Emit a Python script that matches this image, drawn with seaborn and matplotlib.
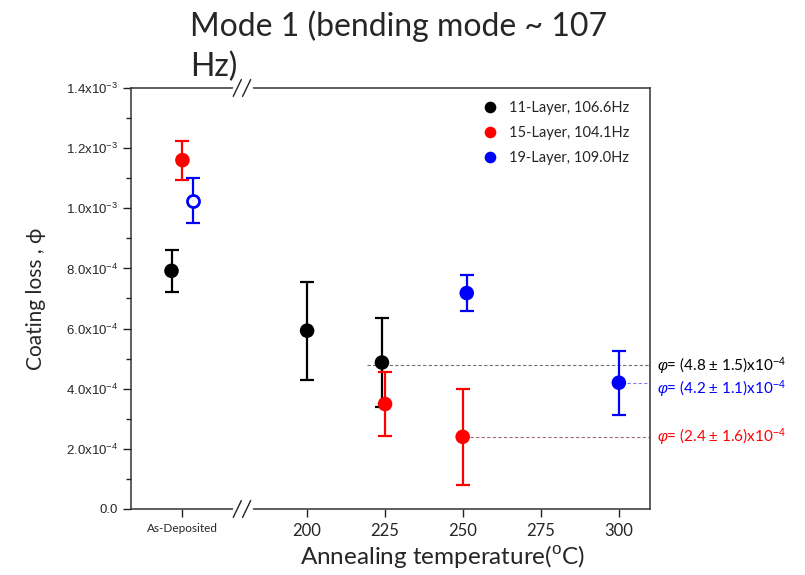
import numpy as np
import pandas as pd
import matplotlib
matplotlib.use('Agg')
import matplotlib.pyplot as plt
import seaborn as sns

# values (coating loss in units of 1e-4)
layers = ['11-Layer, 106.6Hz', '15-Layer, 104.1Hz', '19-Layer, 109.0Hz']
colors = ['black', 'red', 'blue']
temp_11 = [156.5, 200, 224]
loss_11 = [7.92, 5.93, 4.87]
err_11 = [0.70, 1.63, 1.49]
temp_15 = [160, 225, 249.9]
loss_15 = [11.6, 3.49, 2.40]
err_15 = [0.65, 1.06, 1.60]
temp_19 = [163.4, 251.2, 300]
loss_19 = [10.25, 7.18, 4.20]
err_19 = [0.75, 0.60, 1.07]

xtick_pos = [160, 200, 225, 250, 275, 300]
xtick_labels = ['As-Deposited', '200', '225', '250', '275', '300']
ytick_pos = [0, 2, 4, 6, 8, 10, 12, 14]
ytick_labels = ['0.0', '2.0x10$^{-4}$', '4.0x10$^{-4}$', '6.0x10$^{-4}$', '8.0x10$^{-4}$',
                '1.0x10$^{-3}$', '1.2x10$^{-3}$', '1.4x10$^{-3}$']

# fitted values shown at the right
fits = [('4.8', '1.5', 4.80), ('4.2', '1.1', 4.20), ('2.4', '1.6', 2.40)]
fit_start = [219.2, 302.6, 252.2]

sns.set_theme(style='ticks')
plt.rcParams['font.family'] = ['Lato', 'DejaVu Sans']
plt.rcParams['mathtext.fontset'] = 'custom'
plt.rcParams['mathtext.rm'] = 'Liberation Sans'
plt.rcParams['mathtext.it'] = 'Liberation Sans:italic'

df = pd.DataFrame({
    'temp': temp_11 + temp_15 + temp_19,
    'loss': np.array(loss_11 + loss_15 + loss_19) * 1e-4,
    'err': np.array(err_11 + err_15 + err_19) * 1e-4,
    'layer': [layers[0]] * 3 + [layers[1]] * 3 + [layers[2]] * 3,
})

fig = plt.figure(figsize=(8.05, 5.75), dpi=100)
ax = fig.add_axes([0.1627, 0.1148, 0.6448, 0.7322])

for lay, col in zip(layers, colors):
    d = df[df['layer'] == lay]
    ax.errorbar(d['temp'], d['loss'], yerr=d['err'], fmt='none', ecolor=col,
                elinewidth=1.6, capsize=5, capthick=1.6, zorder=2)

filled = df[~((df['layer'] == layers[2]) & (df['temp'] < 178))]
sns.scatterplot(data=filled, x='temp', y='loss', hue='layer', palette=colors,
                hue_order=layers, s=110, edgecolor='none', ax=ax, zorder=3)
# open marker for 19-layer as-deposited
opn = df[(df['layer'] == layers[2]) & (df['temp'] < 178)]
ax.scatter(opn['temp'], opn['loss'], s=75, facecolor='white', edgecolor='blue',
           linewidth=2, zorder=3)

# fit reference lines
line_cols = ['#707070', '#8080ff', '#a07070']
for (v, e, yv), xs, lc in zip(fits, fit_start, line_cols):
    ax.hlines(yv * 1e-4, xs, 310, colors=lc, linestyles=(0, (3, 2)), linewidth=0.8, zorder=1)
text_y = [4.73, 3.97, 2.39]
for (v, e, yv), ty, tc in zip(fits, text_y, ['black', 'blue', 'red']):
    ax.text(1.013, ty * 1e-4, r'$\varphi$= (' + v + ' $\\pm$ ' + e + ')x10$^{-4}$',
            transform=ax.get_yaxis_transform(), color=tc, fontsize=11,
            va='center', ha='left')

ax.set_xlim(143.5, 310)
ax.set_ylim(0, 1.4e-3)
ax.set_xticks(xtick_pos)
ax.set_xticklabels(xtick_labels)
for lbl in ax.get_xticklabels():
    lbl.set_fontsize(12)
ax.get_xticklabels()[0].set_fontsize(8.5)
ax.set_yticks(np.array(ytick_pos) * 1e-4)
ax.set_yticklabels(ytick_labels, family='Liberation Sans', fontsize=9.5)
ax.set_yticks(np.arange(1, 14, 2) * 1e-4, minor=True)
ax.tick_params(axis='both', which='major', direction='out', length=6, width=1, color='#222222')
ax.tick_params(axis='y', which='minor', direction='out', length=3.5, width=1, color='#222222')
ax.tick_params(axis='x', pad=4)
for sp in ax.spines.values():
    sp.set_visible(True)
    sp.set_linewidth(1.1)
    sp.set_color('#333333')

ax.set_xlabel('Annealing temperature($^{\\rm o}$C)', fontsize=17.5)
ax.xaxis.set_label_coords(0.601, -0.114)
ax.xaxis.label.set_va('center')
ax.set_ylabel('Coating loss , ϕ', fontsize=15, labelpad=14)

# axis break marks on top and bottom spines
tr = ax.get_xaxis_transform()
for yb in (0, 1):
    ax.plot([176.5, 182.0], [yb, yb], color='white', linewidth=2.5, transform=tr,
            clip_on=False, zorder=5)
    for x0 in (176.3, 179.3):
        ax.plot([x0, x0 + 2.6], [yb - 0.02, yb + 0.02], color='#222222', linewidth=1,
                transform=tr, clip_on=False, zorder=6)

leg = ax.legend(loc='upper right', frameon=False, fontsize=10.5, handletextpad=0.3,
                borderaxespad=0.5, labelspacing=0.75, markerscale=0.8,
                bbox_to_anchor=(0.985, 1.0))

fig.text(0.236, 0.982, 'Mode 1 (bending mode ~ 107\nHz)', fontsize=23, ha='left', va='top',
         linespacing=1.4)

fig.savefig('out.png', dpi=100)
